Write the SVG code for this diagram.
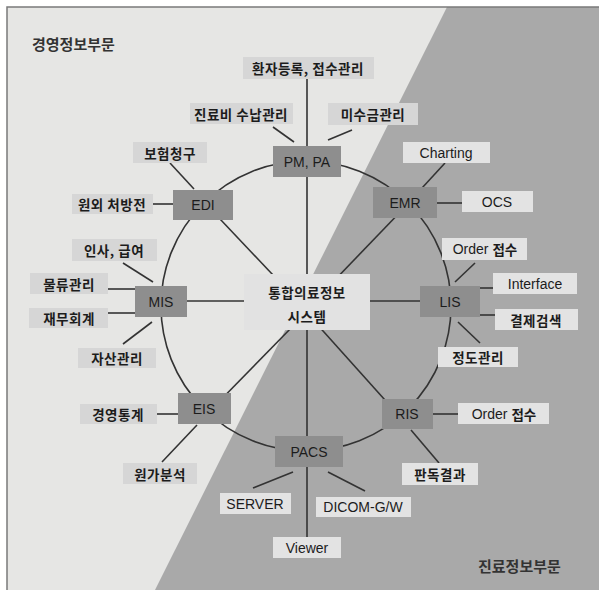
<svg xmlns="http://www.w3.org/2000/svg" width="599" height="590" viewBox="0 0 599 590">
<style>
.bgl{fill:#e6e6e4}
.bgd{fill:#a9a9a9}
.frame{fill:none;stroke:#7a7a7a;stroke-width:1.5}
.ln{stroke:#333;stroke-width:1.6;fill:none}
.node{fill:#8e8e8e}
.lab{fill:#d6d6d6}
.labd{fill:#e3e3e3}
.ctr{fill:#e2e2e2}
text{font-family:"Liberation Sans","Noto Sans CJK KR",sans-serif;font-size:14px;fill:#1c1c1c;text-anchor:middle;dominant-baseline:central}
.ko{font-family:"Noto Sans CJK KR","Liberation Sans",sans-serif;font-size:13.5px;font-weight:bold;letter-spacing:0.5px}
.ttl{font-family:"Noto Sans CJK KR","Liberation Sans",sans-serif;font-size:15px;font-weight:bold;fill:#333;text-anchor:start}
.kt{font-family:"Noto Sans CJK KR",sans-serif;font-weight:bold;font-size:13.5px}
</style>
<rect x="0" y="0" width="599" height="590" fill="#ffffff"/>
<rect class="bgl" x="7" y="7" width="592" height="583"/>
<polygon class="bgd" points="447,7 599,7 599,590 155,590"/>
<path class="frame" d="M7,590 V7 H599"/>
<text class="ttl" x="32" y="43">경영정보부문</text>
<text class="ttl" x="478" y="565">진료정보부문</text>
<g id="connectors">
<circle class="ln" cx="306" cy="306" r="145"/>
<line class="ln" x1="307" y1="78" x2="307" y2="538"/>
<line class="ln" x1="203" y1="201" x2="290" y2="293"/>
<line class="ln" x1="405" y1="207" x2="330" y2="285"/>
<line class="ln" x1="161" y1="301" x2="250" y2="301"/>
<line class="ln" x1="365" y1="301" x2="450" y2="301"/>
<line class="ln" x1="295" y1="324" x2="204" y2="417"/>
<line class="ln" x1="315" y1="322" x2="402" y2="419"/>
<line class="ln" x1="273" y1="127" x2="294" y2="142"/>
<line class="ln" x1="352" y1="130" x2="328" y2="140"/>
<line class="ln" x1="170" y1="163" x2="194" y2="189"/>
<line class="ln" x1="153" y1="204" x2="173" y2="204"/>
<line class="ln" x1="445" y1="163" x2="422" y2="188"/>
<line class="ln" x1="437" y1="203" x2="462" y2="203"/>
<line class="ln" x1="475" y1="263" x2="455" y2="282"/>
<line class="ln" x1="123" y1="263" x2="153" y2="282"/>
<line class="ln" x1="480" y1="288" x2="493" y2="288"/>
<line class="ln" x1="480" y1="315" x2="495" y2="315"/>
<line class="ln" x1="108" y1="289" x2="135" y2="289"/>
<line class="ln" x1="108" y1="313" x2="135" y2="313"/>
<line class="ln" x1="123" y1="344" x2="152" y2="322"/>
<line class="ln" x1="458" y1="322" x2="480" y2="343"/>
<line class="ln" x1="157" y1="414" x2="178" y2="414"/>
<line class="ln" x1="162" y1="462" x2="197" y2="425"/>
<line class="ln" x1="433" y1="414" x2="458" y2="414"/>
<line class="ln" x1="411" y1="430" x2="439" y2="463"/>
<line class="ln" x1="253" y1="488" x2="293" y2="472"/>
<line class="ln" x1="328" y1="472" x2="365" y2="491"/>
</g>
<g id="center"><rect class="ctr" x="244" y="274" width="126" height="56"/><text class="ko" x="307" y="292">통합의료정보</text><text class="ko" x="307" y="316">시스템</text></g>
<g id="pmpa"><rect class="node" x="273" y="146" width="68" height="31"/><text x="307" y="161.5">PM, PA</text></g>
<g id="edi"><rect class="node" x="173" y="190" width="60" height="30"/><text x="203" y="205">EDI</text></g>
<g id="emr"><rect class="node" x="373" y="187" width="64" height="31"/><text x="405" y="202.5">EMR</text></g>
<g id="mis"><rect class="node" x="135" y="286" width="52" height="31"/><text x="161" y="301.5">MIS</text></g>
<g id="lis"><rect class="node" x="420" y="286" width="60" height="31"/><text x="450" y="301.5">LIS</text></g>
<g id="eis"><rect class="node" x="178" y="393" width="53" height="31"/><text x="204" y="408.5">EIS</text></g>
<g id="ris"><rect class="node" x="382" y="399" width="51" height="30"/><text x="407" y="414">RIS</text></g>
<g id="pacs"><rect class="node" x="275" y="436" width="68" height="31"/><text x="309" y="451.5">PACS</text></g>
<g id="l-reg"><rect class="lab" x="243" y="57" width="131" height="22"/><text class="ko" x="308" y="68">환자등록, 접수관리</text></g>
<g id="l-pay"><rect class="lab" x="190" y="103" width="103" height="21"/><text class="ko" x="241" y="113.5">진료비 수납관리</text></g>
<g id="l-unpaid"><rect class="lab" x="328" y="103" width="90" height="22"/><text class="ko" x="373" y="114">미수금관리</text></g>
<g id="l-ins"><rect class="lab" x="133" y="142" width="74" height="21"/><text class="ko" x="170" y="152.5">보험청구</text></g>
<g id="l-presc"><rect class="lab" x="72" y="194" width="81" height="20"/><text class="ko" x="112" y="204">원외 처방전</text></g>
<g id="l-chart"><rect class="labd" x="403" y="142" width="87" height="21"/><text x="446" y="152.5">Charting</text></g>
<g id="l-ocs"><rect class="labd" x="462" y="191" width="71" height="21"/><text x="497" y="201.5">OCS</text></g>
<g id="l-order1"><rect class="labd" x="442" y="238" width="85" height="22"/><text x="485" y="249">Order <tspan class="kt">접수</tspan></text></g>
<g id="l-hr"><rect class="lab" x="72" y="239" width="85" height="22"/><text class="ko" x="114" y="250">인사, 급여</text></g>
<g id="l-if"><rect class="labd" x="493" y="273" width="84" height="21"/><text x="535" y="283.5">Interface</text></g>
<g id="l-search"><rect class="labd" x="495" y="309" width="83" height="21"/><text class="ko" x="536" y="319.5">결제검색</text></g>
<g id="l-logi"><rect class="lab" x="30" y="273" width="78" height="21"/><text class="ko" x="69" y="283.5">물류관리</text></g>
<g id="l-fin"><rect class="lab" x="29" y="308" width="79" height="20"/><text class="ko" x="69" y="318">재무회계</text></g>
<g id="l-asset"><rect class="lab" x="78" y="348" width="78" height="20"/><text class="ko" x="117" y="358">자산관리</text></g>
<g id="l-qc"><rect class="labd" x="438" y="347" width="80" height="20"/><text class="ko" x="478" y="357">정도관리</text></g>
<g id="l-stat"><rect class="lab" x="80" y="404" width="77" height="20"/><text class="ko" x="118" y="414">경영통계</text></g>
<g id="l-cost"><rect class="lab" x="123" y="463" width="74" height="21"/><text class="ko" x="160" y="473.5">원가분석</text></g>
<g id="l-order2"><rect class="labd" x="458" y="403" width="91" height="21"/><text x="504" y="413.5">Order <tspan class="kt">접수</tspan></text></g>
<g id="l-read"><rect class="labd" x="402" y="463" width="76" height="22"/><text class="ko" x="440" y="474">판독결과</text></g>
<g id="l-server"><rect class="labd" x="220" y="493" width="71" height="21"/><text x="255" y="503.5">SERVER</text></g>
<g id="l-dicom"><rect class="labd" x="316" y="497" width="95" height="20"/><text x="363" y="507">DICOM-G/W</text></g>
<g id="l-viewer"><rect class="labd" x="273" y="537" width="68" height="21"/><text x="307" y="547.5">Viewer</text></g>
</svg>
